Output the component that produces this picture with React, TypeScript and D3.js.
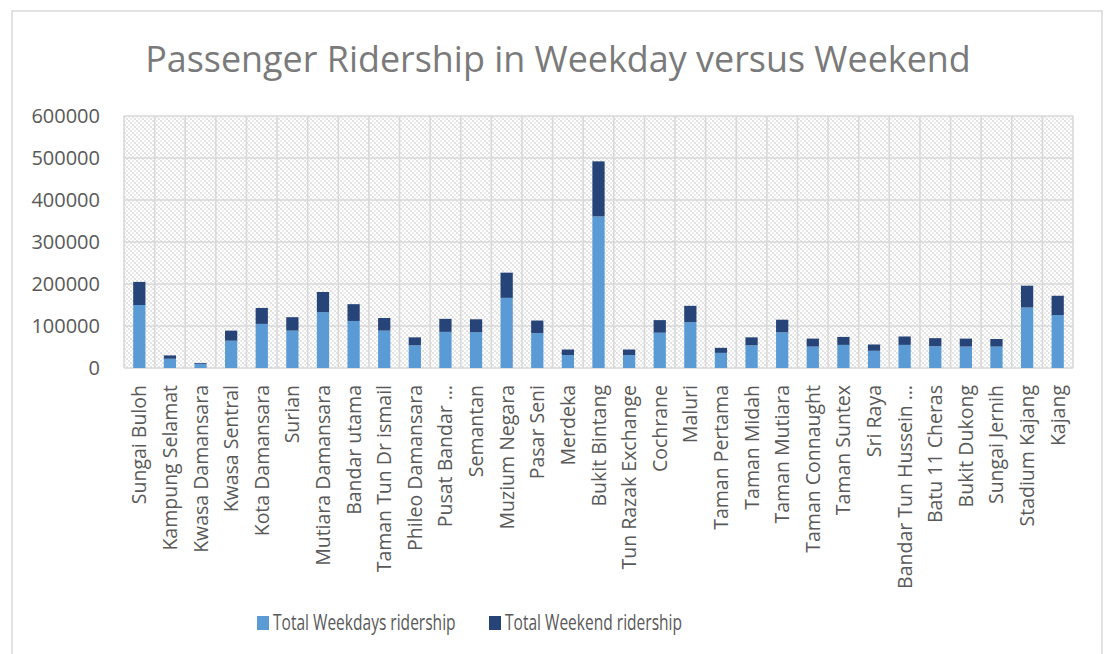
import React from 'react';
import * as d3 from 'd3';

const width = 1109;
const height = 654;
const margin = { top: 116, right: 36, bottom: 286, left: 124 };
const lightBlue = '#5b9bd5';
const darkBlue = '#264478';
const grid = '#d9d9d9';
const textColor = '#595959';
const font = '"Open Sans", "DejaVu Sans", sans-serif';

const stations = [
  'Sungai Buloh', 'Kampung Selamat', 'Kwasa Damansara', 'Kwasa Sentral', 'Kota Damansara',
  'Surian', 'Mutiara Damansara', 'Bandar utama', 'Taman Tun Dr ismail', 'Phileo Damansara',
  'Pusat Bandar …', 'Semantan', 'Muzium Negara', 'Pasar Seni', 'Merdeka',
  'Bukit Bintang', 'Tun Razak Exchange', 'Cochrane', 'Maluri', 'Taman Pertama',
  'Taman Midah', 'Taman Mutiara', 'Taman Connaught', 'Taman Suntex', 'Sri Raya',
  'Bandar Tun Hussein …', 'Batu 11 Cheras', 'Bukit Dukong', 'Sungai Jernih', 'Stadium Kajang',
  'Kajang',
];

const weekdays = [
  150000, 22000, 10000, 65000, 105000, 89000, 133000, 112000, 89000, 54000,
  86000, 85000, 167000, 83000, 31000, 361000, 31000, 84000, 109000, 36000,
  54000, 85000, 51000, 55000, 41000, 55000, 52000, 51000, 51000, 144000,
  126000,
];

const weekend = [
  55000, 8000, 2000, 24000, 38000, 32000, 48000, 40000, 30000, 19000,
  31000, 31000, 60000, 30000, 13000, 131000, 13000, 30000, 39000, 12000,
  19000, 30000, 19000, 19000, 15000, 20000, 19000, 19000, 18000, 52000,
  46000,
];

const yTicks = [0, 100000, 200000, 300000, 400000, 500000, 600000];

const seriesNames = ['Total Weekdays ridership', 'Total Weekend ridership'];
const seriesColors = [lightBlue, darkBlue];

const x = d3.scaleBand<string>()
  .domain(stations)
  .range([margin.left, width - margin.right])
  .paddingInner(0.6)
  .paddingOuter(0.3);

const y = d3.scaleLinear()
  .domain([0, 600000])
  .range([height - margin.bottom, margin.top]);

const rows = stations.map((s, i) => ({ station: s, weekdays: weekdays[i], weekend: weekend[i] }));
const stacked = d3.stack<any>().keys(['weekdays', 'weekend'])(rows);

export default function App() {
  const x0 = x.range()[0];
  const x1 = x.range()[1];
  const step = x.step();
  const vLines = d3.range(stations.length + 1).map(i => x0 + i * step);

  return (
    <svg width={width} height={height} style={{ position: 'absolute', left: 0, top: 0, background: '#fff' }}>
      <defs>
        <pattern id="hatch" width="8" height="8" patternUnits="userSpaceOnUse">
          <rect width="8" height="8" fill="#fff" />
          {[0, 2, 4, 6].map(i => (
            <g key={i}>
              <rect x={i} y={i} width="2" height="2" fill="#e2e2e2" />
              <rect x={(i + 4) % 8} y={i} width="2" height="2" fill="#ededed" />
            </g>
          ))}
        </pattern>
      </defs>

      {/* chart border */}
      <rect x={12} y={11} width={1090} height={660} fill="none" stroke={grid} strokeWidth={1.5} />

      <text x={558} y={72} textAnchor="middle" fontFamily={font} fontSize={35.9} fill="#7a7a7a">
        Passenger Ridership in Weekday versus Weekend
      </text>

      {/* plot area */}
      <rect x={x0} y={y(600000)} width={x1 - x0} height={y(0) - y(600000)} fill="url(#hatch)" />
      {yTicks.map(t => (
        <line key={t} x1={x0} x2={x1} y1={y(t)} y2={y(t)} stroke={grid} strokeWidth={1.6} />
      ))}
      {vLines.map((v, i) => (
        <line key={i} x1={v} x2={v} y1={y(600000)} y2={y(0)} stroke={grid} strokeWidth={1.6} />
      ))}

      {stacked.map((layer, li) => (
        <g key={layer.key} fill={seriesColors[li]}>
          {layer.map((d, i) => (
            <rect key={i} x={x(stations[i])} y={y(d[1])} width={x.bandwidth()} height={y(d[0]) - y(d[1])} />
          ))}
        </g>
      ))}

      {yTicks.map(t => (
        <text key={t} x={100} y={y(t)} dy="0.35em" textAnchor="end" fontFamily={font} fontSize={20} fill={textColor}>
          {t}
        </text>
      ))}

      {stations.map(s => {
        const cx = (x(s) as number) + x.bandwidth() / 2;
        return (
          <text key={s} transform={`translate(${cx},385) rotate(-90)`} dy="0.36em" textAnchor="end"
            fontFamily={font} fontSize={19.5} fill={textColor}>
            {s}
          </text>
        );
      })}

      {seriesNames.map((n, i) => {
        const lx = [257, 489][i];
        return (
          <g key={n}>
            <rect x={lx} y={616} width={12} height={14} fill={seriesColors[i]} />
            <text transform={`translate(${lx + 16},623) scale(0.74,1)`} dy="0.35em" fontFamily={font} fontSize={21} fill={textColor}>
              {n}
            </text>
          </g>
        );
      })}
    </svg>
  );
}
